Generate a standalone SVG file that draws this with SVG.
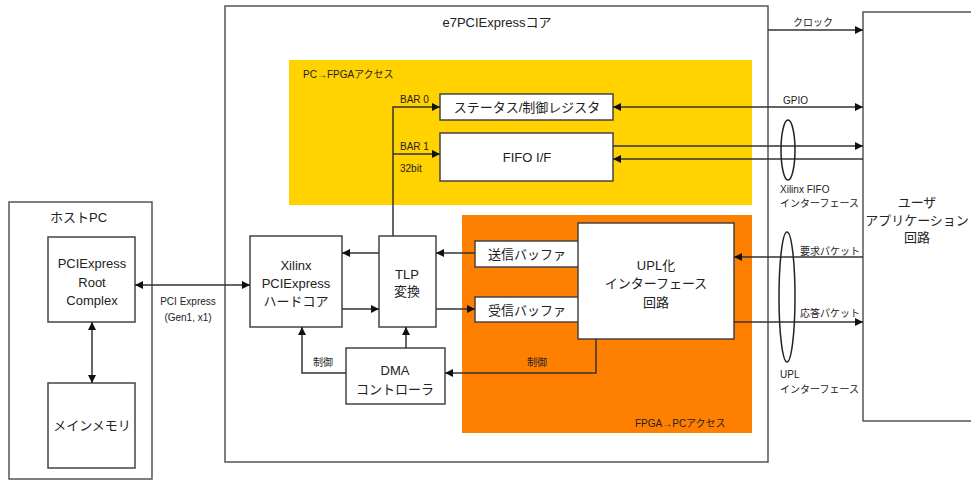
<svg xmlns="http://www.w3.org/2000/svg" width="971" height="481" viewBox="0 0 971 481">
<style>
text{font-family:"Liberation Sans","Noto Sans CJK JP",sans-serif;fill:#222}
.n{font-size:13px;text-anchor:middle}
.s{font-size:10px}
.sc{font-size:10px;text-anchor:middle}
.box{fill:#fff;stroke:#444;stroke-width:1.5}
.frame{fill:#fff;stroke:#555;stroke-width:1.5}
.ln{fill:none;stroke:#333;stroke-width:1.5}
</style>
<defs>
<marker id="ah" viewBox="0 0 10 10" refX="10" refY="5" markerWidth="8" markerHeight="8" markerUnits="userSpaceOnUse" orient="auto-start-reverse">
<path d="M0,0 L10,5 L0,10 z" fill="#111"/>
</marker>
</defs>
<g id="host-pc">
<rect class="frame" x="9" y="202" width="143" height="277"/>
<text x="50" y="222" style="font-size:13px">ホストPC</text>
</g>
<g id="e7core">
<rect class="frame" x="225" y="6" width="543" height="456"/>
<text class="n" x="497" y="27">e7PCIExpressコア</text>
</g>
<g id="user-app">
<rect class="frame" x="863" y="12" width="120" height="409"/>
<text class="n" x="917" y="207">ユーザ</text>
<text class="n" x="917" y="225">アプリケーション</text>
<text class="n" x="917" y="242">回路</text>
</g>
<g id="pc-fpga-area">
<rect x="289" y="60" width="463" height="145" fill="#FFD200"/>
<text class="s" x="303" y="78">PC→FPGAアクセス</text>
</g>
<g id="fpga-pc-area">
<rect x="462" y="215" width="290" height="218" fill="#FF7F00"/>
<text class="s" x="635" y="427">FPGA→PCアクセス</text>
</g>
<g id="root-complex">
<rect class="box" x="48" y="237" width="87" height="85"/>
<text class="n" x="92" y="268">PCIExpress</text>
<text class="n" x="92" y="287">Root</text>
<text class="n" x="92" y="305">Complex</text>
</g>
<g id="main-memory">
<rect class="box" x="48" y="383" width="87" height="85"/>
<text class="n" x="92" y="430">メインメモリ</text>
</g>
<g id="xilinx-core">
<rect class="box" x="250" y="236" width="92" height="91"/>
<text class="n" x="296" y="270">Xilinx</text>
<text class="n" x="296" y="288">PCIExpress</text>
<text class="n" x="296" y="306">ハードコア</text>
</g>
<g id="tlp">
<rect class="box" x="379" y="236" width="57" height="91"/>
<text class="n" x="407" y="279">TLP</text>
<text class="n" x="407" y="296">変換</text>
</g>
<g id="dma">
<rect class="box" x="346" y="348" width="99" height="56"/>
<text class="n" x="395" y="375">DMA</text>
<text class="n" x="395" y="394">コントローラ</text>
</g>
<g id="status-reg">
<rect class="box" x="440" y="94" width="173" height="26"/>
<text class="n" x="527" y="112">ステータス/制御レジスタ</text>
</g>
<g id="fifo-if">
<rect class="box" x="440" y="133" width="173" height="48"/>
<text class="n" x="527" y="162">FIFO I/F</text>
</g>
<g id="tx-buf">
<rect class="box" x="475" y="241" width="104" height="26"/>
<text class="n" x="527" y="259">送信バッファ</text>
</g>
<g id="rx-buf">
<rect class="box" x="475" y="297" width="104" height="25"/>
<text class="n" x="527" y="315">受信バッファ</text>
</g>
<g id="upl">
<rect class="box" x="578" y="223" width="156" height="116"/>
<text class="n" x="656" y="270">UPL化</text>
<text class="n" x="656" y="288">インターフェース</text>
<text class="n" x="656" y="307">回路</text>
</g>
<g id="connectors">
<line class="ln" x1="135" y1="285" x2="250" y2="285" marker-start="url(#ah)" marker-end="url(#ah)"/>
<line class="ln" x1="92" y1="322" x2="92" y2="383" marker-start="url(#ah)" marker-end="url(#ah)"/>
<line class="ln" x1="379" y1="253" x2="342" y2="253" marker-end="url(#ah)"/>
<line class="ln" x1="342" y1="309" x2="379" y2="309" marker-end="url(#ah)"/>
<line class="ln" x1="475" y1="253" x2="436" y2="253" marker-end="url(#ah)"/>
<line class="ln" x1="436" y1="309" x2="475" y2="309" marker-end="url(#ah)"/>
<line class="ln" x1="406" y1="348" x2="406" y2="327" marker-end="url(#ah)"/>
<polyline class="ln" points="346,373 302,373 302,327" marker-end="url(#ah)"/>
<polyline class="ln" points="596,339 596,373 445,373" marker-end="url(#ah)"/>
<polyline class="ln" points="393,236 393,107 440,107" marker-end="url(#ah)"/>
<line class="ln" x1="393" y1="154" x2="440" y2="154" marker-end="url(#ah)"/>
<line class="ln" x1="768" y1="30" x2="863" y2="30" marker-end="url(#ah)"/>
<line class="ln" x1="613" y1="107" x2="863" y2="107" marker-start="url(#ah)" marker-end="url(#ah)"/>
<line class="ln" x1="613" y1="146" x2="863" y2="146" marker-end="url(#ah)"/>
<line class="ln" x1="863" y1="159" x2="613" y2="159" marker-end="url(#ah)"/>
<line class="ln" x1="863" y1="257" x2="734" y2="257" marker-end="url(#ah)"/>
<line class="ln" x1="734" y1="322" x2="863" y2="322" marker-end="url(#ah)"/>
<ellipse cx="788" cy="150" rx="7" ry="30" fill="none" stroke="#222" stroke-width="1.5"/>
<ellipse cx="787" cy="297" rx="8" ry="65" fill="none" stroke="#222" stroke-width="1.5"/>
<text class="s" x="400" y="103">BAR 0</text>
<text class="s" x="400" y="150">BAR 1</text>
<text class="s" x="400" y="172">32bit</text>
<text class="sc" x="323" y="366">制御</text>
<text class="sc" x="537" y="366">制御</text>
<text class="sc" x="188" y="305">PCI Express</text>
<text class="sc" x="188" y="321">(Gen1, x1)</text>
<text class="s" x="793" y="26">クロック</text>
<text class="s" x="783" y="104">GPIO</text>
<text class="s" x="780" y="193">Xilinx FIFO</text>
<text class="s" x="780" y="207">インターフェース</text>
<text class="s" x="800" y="255">要求パケット</text>
<text class="s" x="800" y="317">応答パケット</text>
<text class="s" x="780" y="378">UPL</text>
<text class="s" x="780" y="393">インターフェース</text>
</g>
</svg>
